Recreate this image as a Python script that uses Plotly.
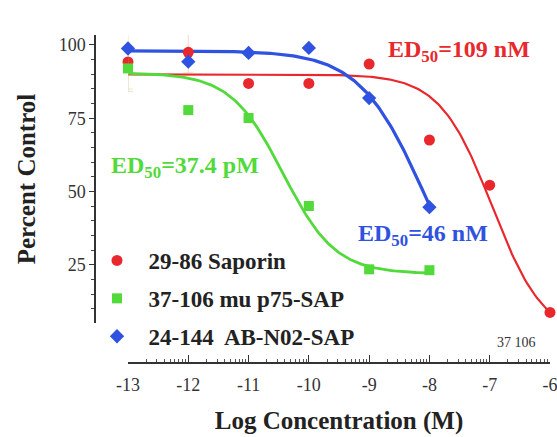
import numpy as np
import plotly.graph_objects as go

# ---- data ----
log_conc = [-13, -12, -11, -10, -9, -8, -7, -6]

saporin_x = [-13, -12, -11, -10, -9, -8, -7, -6]
saporin_y = [94.2, 97.5, 86.9, 86.9, 93.5, 67.6, 52.2, 8.8]
saporin_err = [10, 7, 0, 0, 0, 0, 0, 0]

p75_x = [-13, -12, -11, -10, -9, -8]
p75_y = [92.0, 77.8, 75.1, 45.1, 23.5, 23.2]
p75_err = [7, 0, 0, 0, 0, 0]

ab_x = [-13, -12, -11, -10, -9, -8]
ab_y = [98.8, 94.3, 97.3, 99.0, 81.9, 44.7]

# fitted 4-parameter logistic parameters: top, bottom, logED50, hill
fit_saporin = [90.0, 0.0, -6.96, 1.0]
fit_p75 = [90.5, 22.0, -10.43, 1.0]
fit_ab = [98.0, 0.0, -8.08, 0.8]

series_names = ["29-86 Saporin", "37-106 mu p75-SAP", "24-144  AB-N02-SAP"]
ed50_labels = ["ED<sub>50</sub>=109 nM", "ED<sub>50</sub>=37.4 pM", "ED<sub>50</sub>=46 nM"]
tick_labels = ["-13", "-12", "-11", "-10", "-9", "-8", "-7", "-6"]
y_ticks = [25, 50, 75, 100]

RED = "#e8282c"
GREEN = "#52d93a"
BLUE = "#2f52e0"
SERIF = "Liberation Serif"


def logistic(x, p):
    top, bottom, c, h = p
    x = np.asarray(x)
    return bottom + (top - bottom) / (1 + 10 ** ((x - c) * h))


fig = go.Figure()

curves = [
    (saporin_x, fit_saporin, RED, 2.2),
    (p75_x, fit_p75, GREEN, 2.8),
    (ab_x, fit_ab, BLUE, 3.2),
]
for xs, p, col, w in curves:
    xx = np.linspace(min(xs), max(xs), 200)
    fig.add_trace(go.Scatter(x=xx, y=logistic(xx, p), mode="lines",
                             line=dict(color=col, width=w), showlegend=False,
                             hoverinfo="skip", cliponaxis=False))

NB = "\u00a0\u00a0"
fig.add_trace(go.Scatter(x=saporin_x, y=saporin_y, mode="markers", name=NB + series_names[0],
                         marker=dict(symbol="circle", size=11, color=RED),
                         error_y=dict(type="data", array=saporin_err, color="rgba(240,150,90,0.35)",
                                      thickness=1, width=5),
                         legendgroup="a", cliponaxis=False))
fig.add_trace(go.Scatter(x=p75_x, y=p75_y, mode="markers", name=NB + series_names[1],
                         marker=dict(symbol="square", size=10, color=GREEN),
                         error_y=dict(type="data", array=p75_err, color="rgba(140,220,120,0.35)",
                                      thickness=1, width=5),
                         legendgroup="b", cliponaxis=False))
fig.add_trace(go.Scatter(x=ab_x, y=ab_y, mode="markers", name=NB + series_names[2],
                         marker=dict(symbol="diamond", size=11, color=BLUE),
                         legendgroup="c", cliponaxis=False))

W, H = 557, 437
minor_vals = [d + np.log10(k) for d in log_conc[:-1] for k in range(2, 10)]

fig.update_layout(
    width=W, height=H,
    margin=dict(l=0, r=0, t=0, b=0),
    paper_bgcolor="white", plot_bgcolor="white",
    font=dict(family=SERIF, color="#222"),
    xaxis=dict(
        range=[-13, -6], domain=[128 / W, 550 / W],
        anchor="free", position=1 - 363 / H,
        tickmode="array", tickvals=log_conc, ticktext=tick_labels,
        ticks="inside", ticklen=7, tickwidth=1.2, tickcolor="#333",
        minor=dict(tickmode="array", tickvals=minor_vals, ticks="inside",
                   ticklen=3, tickcolor="#555"),
        showline=True, linecolor="#333", linewidth=1.5,
        showgrid=False, zeroline=False,
        tickfont=dict(size=18, color="#333"),
        ticklabelstandoff=6, ticklabeloverflow="allow",
        title=dict(text="<b>Log Concentration (M)</b>", font=dict(size=25, color="#222"),
                   standoff=16),
        automargin=False,
    ),
    yaxis=dict(
        range=[5.2, 103.4], domain=[1 - 323 / H, 1 - 35 / H],
        anchor="free", position=95 / W,
        tickmode="array", tickvals=y_ticks,
        ticks="outside", ticklen=5, tickwidth=1.2, tickcolor="#333",
        minor=dict(dtick=5, tick0=0, ticks="outside", ticklen=3, tickcolor="#444"),
        showline=True, linecolor="#333", linewidth=1.5,
        showgrid=False, zeroline=False,
        tickfont=dict(size=18, color="#333"),
        title=dict(text="<b>Percent Control</b>", font=dict(size=25, color="#222"),
                   standoff=15),
        automargin=False,
    ),
    legend=dict(
        x=97 / W, y=1 - 239 / H, xanchor="left", yanchor="top",
        bgcolor="rgba(0,0,0,0)", borderwidth=0,
        font=dict(family=SERIF, size=23, color="#222", weight="bold"),
        traceorder="grouped", tracegroupgap=5,
    ),
    showlegend=True,
)

ann_pos = [(-7.51, 97.9, RED), (-12.05, 58.4, GREEN), (-8.11, 35.2, BLUE)]
for (ax_, ay_, col), txt in zip(ann_pos, ed50_labels):
    fig.add_annotation(x=ax_, y=ay_, xref="x", yref="y", text="<b>" + txt + "</b>",
                       showarrow=False, font=dict(family=SERIF, size=24, color=col))

fig.add_annotation(x=-6.55, y=1 - 352 / H, xref="x", yref="paper", text="37 106",
                   showarrow=False, font=dict(family=SERIF, size=14, color="#333"))

fig.write_html("out.html")
